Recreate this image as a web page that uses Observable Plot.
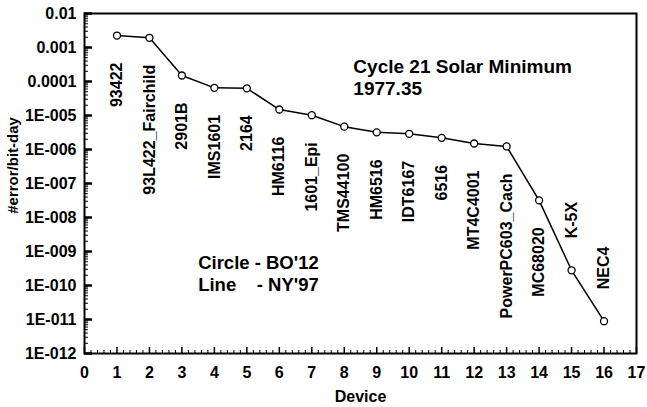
<!DOCTYPE html>
<html>
<head>
<meta charset="utf-8">
<script src="https://cdn.jsdelivr.net/npm/d3@7"></script>
<script src="https://cdn.jsdelivr.net/npm/@observablehq/plot@0.6"></script>
<style>
  html, body { margin: 0; padding: 0; background: #fff; }
</style>
</head>
<body>
<div id="chart"></div>
<script>
// Data
const devices = ["93422", "93L422_Fairchild", "2901B", "IMS1601", "2164", "HM6116", "1601_Epi", "TMS44100",
  "HM6516", "IDT6167", "6516", "MT4C4001", "PowerPC603_Cach", "MC68020", "K-5X", "NEC4"];
const deviceNumbers = [1, 2, 3, 4, 5, 6, 7, 8, 9, 10, 11, 12, 13, 14, 15, 16];
const errorRates = [2.25e-3, 1.93e-3, 1.5e-4, 6.5e-5, 6.3e-5, 1.5e-5, 1.02e-5, 4.7e-6,
  3.2e-6, 2.9e-6, 2.2e-6, 1.5e-6, 1.23e-6, 3.2e-8, 2.8e-10, 8.9e-12];
const labelsAbove = ["K-5X", "NEC4"];

const yTickValues = [1e-2, 1e-3, 1e-4, 1e-5, 1e-6, 1e-7, 1e-8, 1e-9, 1e-10, 1e-11, 1e-12];
const yTickLabels = ["0.01", "0.001", "0.0001", "1E-005", "1E-006", "1E-007", "1E-008", "1E-009", "1E-010", "1E-011", "1E-012"];
const xTickValues = [0, 1, 2, 3, 4, 5, 6, 7, 8, 9, 10, 11, 12, 13, 14, 15, 16, 17];
const yLabel = ["#error/bit-day"];
const yLabelY = [3.4e-7];
const xLabel = "Device";

const titleText = ["Cycle 21 Solar Minimum\n1977.35"];
const titleX = [8.28];
const titleY = [5e-4];
const legendText = ["Circle - BO'12\nLine\u00a0\u00a0\u00a0 - NY'97"];
const legendX = [3.5];
const legendY = [9e-10];

const W = 647, H = 407, ML = 84, MR = 11, MT = 13, MB = 54;
const innerW = W - ML - MR, innerH = H - MT - MB;

const data = devices.map((d, i) => ({device: d, n: deviceNumbers[i], rate: errorRates[i]}));
const minorY = [];
for (let e = -12; e < -2; e++) for (let m = 2; m <= 9; m++) minorY.push(m * Math.pow(10, e));
const minorX = d3.range(0, 17.001, 0.2).filter(v => Math.abs(v - Math.round(v)) > 1e-6);
const fmtY = d => yTickLabels[yTickValues.findIndex(v => Math.abs(Math.log10(v) - Math.log10(d)) < 1e-6)];

const chart = Plot.plot({
  width: W,
  height: H,
  marginLeft: ML,
  marginRight: MR,
  marginTop: MT,
  marginBottom: MB,
  style: {fontFamily: "'Liberation Sans', Arial, sans-serif", fontWeight: "bold", background: "#fff", color: "#000", overflow: "visible"},
  x: {domain: [0, 17]},
  y: {type: "log", domain: [1e-12, 1e-2]},
  marks: [
    // inward tick marks
    Plot.tickY(minorY, {y: d => d, insetRight: innerW - 4, stroke: "#000", strokeWidth: 1}),
    Plot.tickY(yTickValues, {y: d => d, insetRight: innerW - 8, stroke: "#000", strokeWidth: 2.5}),
    Plot.tickX(minorX, {x: d => d, insetTop: innerH - 3, stroke: "#000", strokeWidth: 1}),
    Plot.tickX(xTickValues, {x: d => d, insetTop: innerH - 6, stroke: "#000", strokeWidth: 1.5}),
    Plot.axisY(yTickValues, {tickSize: 0, tickPadding: 8, tickFormat: fmtY, fontSize: 16, label: null}),
    Plot.axisX(xTickValues, {tickSize: 0, tickPadding: 13, fontSize: 16,
      label: xLabel, labelAnchor: "center", labelOffset: 48, labelArrow: false}),
    Plot.text(yLabel, {y: yLabelY, frameAnchor: "left", textAnchor: "middle", text: d => d, rotate: -90, dx: -71,
      fontSize: 15, fontWeight: "bold", fill: "#000"}),
    Plot.frame({stroke: "#000", strokeWidth: 2}),
    Plot.line(data, {x: "n", y: "rate", stroke: "#000", strokeWidth: 1.5}),
    Plot.dot(data, {x: "n", y: "rate", r: 3.5, fill: "#fff", stroke: "#000", strokeWidth: 1.3}),
    Plot.text(data.filter(d => !labelsAbove.includes(d.device)), {x: "n", y: "rate", text: "device", rotate: -90,
      textAnchor: "end", dy: 27, fontSize: 16, fontWeight: "bold", fill: "#000"}),
    Plot.text(data.filter(d => labelsAbove.includes(d.device)), {x: "n", y: "rate", text: "device", rotate: -90,
      textAnchor: "start", dy: -32, fontSize: 16, fontWeight: "bold", fill: "#000"}),
    Plot.text(titleText, {x: titleX, y: titleY, text: d => d, textAnchor: "start", lineAnchor: "top",
      fontSize: 19, fontWeight: "bold", lineHeight: 1.16, fill: "#000"}),
    Plot.text(legendText, {x: legendX, y: legendY, text: d => d, textAnchor: "start", lineAnchor: "top",
      fontSize: 18.5, fontWeight: "bold", lineHeight: 1.19, fill: "#000"})
  ]
});
document.getElementById("chart").appendChild(chart);
</script>
</body>
</html>
